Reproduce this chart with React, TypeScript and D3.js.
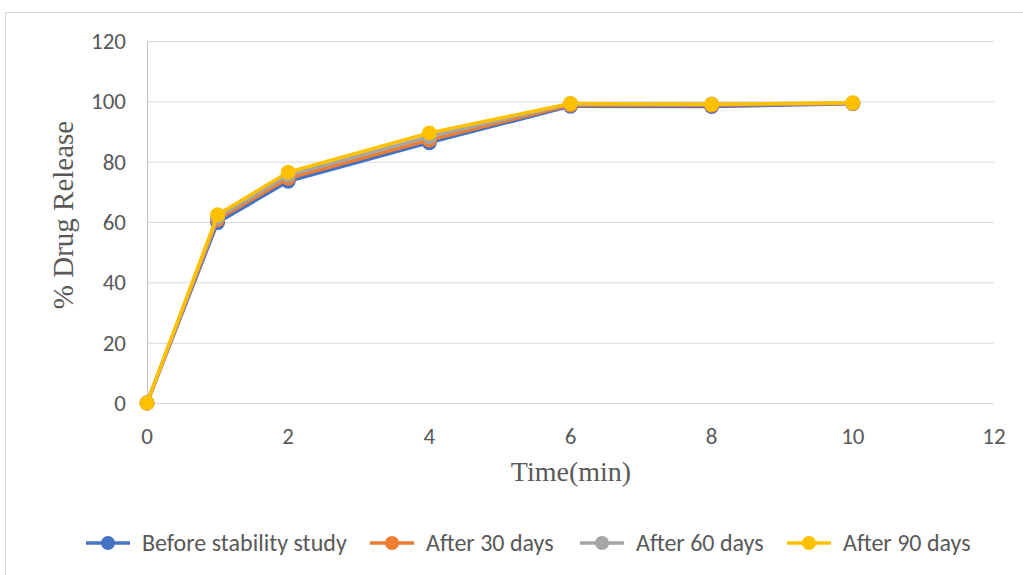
import { useEffect, useRef } from 'react';
import * as d3 from 'd3';

const times = [0, 1, 2, 4, 6, 8, 10];
const beforeStudy = [0, 59.8, 73.5, 86.3, 98.4, 98.3, 99.2];
const after30 = [0, 60.8, 74.5, 87.2, 98.8, 98.7, 99.3];
const after60 = [0, 61.6, 75.5, 88.3, 99.2, 99.1, 99.4];
const after90 = [0, 62.4, 76.5, 89.5, 99.3, 99.0, 99.5];

const seriesNames = ['Before stability study', 'After 30 days', 'After 60 days', 'After 90 days'];
const seriesColors = ['#4472C4', '#ED7D31', '#A5A5A5', '#FFC000'];
const xTicks = [0, 2, 4, 6, 8, 10, 12];
const yTicks = [0, 20, 40, 60, 80, 100, 120];

const sansFont = 'Carlito, Calibri, "Liberation Sans", Arial, sans-serif';
const serifFont = '"Liberation Serif", "Times New Roman", serif';

export default function App() {
  const svgRef = useRef<SVGSVGElement>(null);
  const width = 1023;
  const height = 575;

  useEffect(() => {
    if (!svgRef.current) return;
    const svg = d3.select(svgRef.current);
    svg.selectAll('*').remove();

    svg.append('rect')
      .attr('x', 5.5).attr('y', 12.5)
      .attr('width', width + 10).attr('height', height + 10)
      .attr('fill', '#fff').attr('stroke', '#d9d9d9');

    const x = d3.scaleLinear().domain([0, 12]).range([147, 994]);
    const y = d3.scaleLinear().domain([0, 120]).range([403, 41]);

    // gridlines
    svg.append('g').selectAll('line')
      .data(yTicks)
      .enter().append('line')
      .attr('x1', x(0)).attr('x2', x(12))
      .attr('y1', d => y(d) + 0.5).attr('y2', d => y(d) + 0.5)
      .attr('stroke', '#d9d9d9').attr('stroke-width', 1);

    svg.append('line')
      .attr('x1', x(0) + 0.5).attr('x2', x(0) + 0.5)
      .attr('y1', y(120)).attr('y2', y(0))
      .attr('stroke', '#bfbfbf');

    svg.append('g').selectAll('text')
      .data(yTicks)
      .enter().append('text')
      .attr('x', 126).attr('y', d => y(d))
      .attr('dy', '0.35em')
      .attr('text-anchor', 'end')
      .attr('font-family', sansFont)
      .attr('font-size', 23).attr('fill', '#595959')
      .text(d => d);

    svg.append('g').selectAll('text')
      .data(xTicks)
      .enter().append('text')
      .attr('x', d => x(d)).attr('y', 444)
      .attr('text-anchor', 'middle')
      .attr('font-family', sansFont)
      .attr('font-size', 23).attr('fill', '#595959')
      .text(d => d);

    svg.append('text')
      .attr('transform', `translate(73,215) rotate(-90)`)
      .attr('text-anchor', 'middle')
      .attr('font-family', serifFont)
      .attr('font-size', 29).attr('fill', '#595959')
      .text('% Drug Release');

    svg.append('text')
      .attr('x', 571).attr('y', 481)
      .attr('text-anchor', 'middle')
      .attr('font-family', serifFont)
      .attr('font-size', 28).attr('fill', '#595959')
      .text('Time(min)');

    const allSeries = [beforeStudy, after30, after60, after90];
    const line = d3.line<number>()
      .x((_, i) => x(times[i]))
      .y(d => y(d));

    allSeries.forEach((vals, si) => {
      const g = svg.append('g');
      g.append('path')
        .attr('d', line(vals))
        .attr('fill', 'none')
        .attr('stroke', seriesColors[si])
        .attr('stroke-width', 3.5)
        .attr('stroke-linejoin', 'round');
      g.selectAll('circle')
        .data(vals)
        .enter().append('circle')
        .attr('cx', (_, i) => x(times[i]))
        .attr('cy', d => y(d))
        .attr('r', 7.5)
        .attr('fill', seriesColors[si]);
    });

    // legend
    const legendX = [86, 370, 580, 787];
    const legend = svg.append('g');
    seriesNames.forEach((name, i) => {
      const lg = legend.append('g').attr('transform', `translate(${legendX[i]},543)`);
      lg.append('line')
        .attr('x1', 0).attr('x2', 44)
        .attr('stroke', seriesColors[i]).attr('stroke-width', 3.5);
      lg.append('circle').attr('cx', 22).attr('r', 7).attr('fill', seriesColors[i]);
      lg.append('text')
        .attr('x', 56).attr('dy', '0.35em')
        .attr('font-family', sansFont)
        .attr('font-size', 24).attr('fill', '#595959')
        .text(name);
    });
  }, []);

  return (
    <svg ref={svgRef} width={width} height={height}
      style={{ position: 'absolute', left: 0, top: 0, background: '#fff' }} />
  );
}
